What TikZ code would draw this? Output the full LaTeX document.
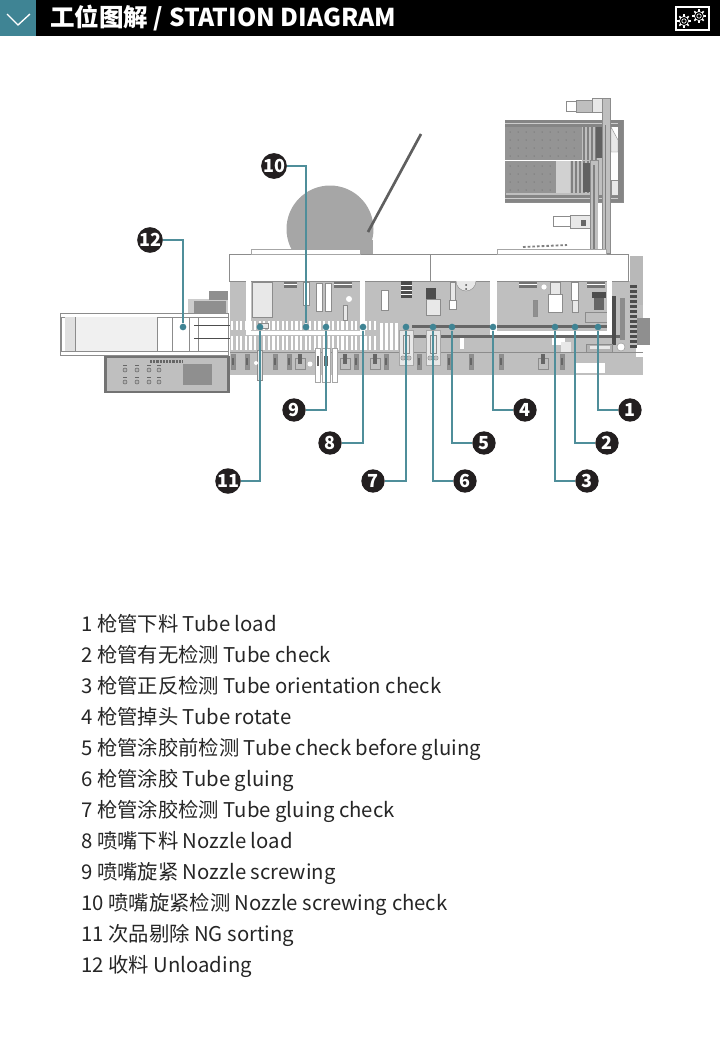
\documentclass[tikz,border=0pt]{standalone}
\usepackage{fontspec}
\setmainfont{Noto Sans CJK SC}
\definecolor{teal}{HTML}{3F8494}
\definecolor{leadc}{HTML}{4F8E9A}
\definecolor{ink}{HTML}{231F20}
\definecolor{plate}{HTML}{BFBFBF}
\definecolor{steel}{HTML}{8F8F8F}
\definecolor{rail}{HTML}{4D4D4D}
\definecolor{pale}{HTML}{E8E8E8}
\tikzset{
  badge/.style={circle,fill=ink,text=white,minimum size=17.5pt,inner sep=0pt,font=\fontsize{13.5}{14}\bfseries},
  tip/.style={circle,fill=teal,minimum size=5pt,inner sep=0pt},
  leader/.style={draw=leadc,line width=0.85pt},
  item/.style={anchor=base west,inner sep=0pt,text=black!85,font=\fontsize{15.25}{18}\selectfont},
  hood/.style={fill=white,draw=black!35,line width=0.3pt},
  finger/.style={fill=white},
  clamp/.style={fill=steel,draw=black!45,line width=0.3pt},
  thin/.style={draw=black!45,line width=0.3pt}
}
\newcommand{\clampat}[1]{\draw[clamp] (#1-2,354) rectangle (#1+2,369);\fill[black!60] (#1-1,358) rectangle (#1+1,365);}
\newcommand{\blockat}[1]{\draw[clamp,fill=plate] (#1-5,358) rectangle (#1+5,369);\fill[black!60] (#1-2,354) rectangle (#1+2,364);\draw[thin] (#1-10,352) -- (#1+10,352);}
\newcommand{\forkat}[1]{\draw[hood,fill=pale] (#1-7,330) rectangle (#1+7,365);\draw[thin] (#1-3,335) rectangle (#1+3,353);\draw[thin,fill=plate] (#1-3,358) circle (2.2);\draw[thin,fill=plate] (#1+3,358) circle (2.2);}
\newcommand{\gearat}[2]{\foreach \a in {0,45,...,315} {\draw[white,line width=1.1pt] (#1,#2) ++(\a:4.5) -- ++(\a:2.2);}\draw[white,line width=0.5pt] (#1,#2) circle (4.6);\draw[white,line width=0.5pt] (#1,#2) circle (2.2);}
\begin{document}
\begin{tikzpicture}[x=0.75pt,y=-0.75pt]
\useasboundingbox (0,0) rectangle (720,1064);
\fill[black] (0,0) rectangle (720,36);
\fill[teal] (0,0) rectangle (36,36);
\draw[white,line width=1pt] (7,14) -- (18,25) -- (30,14);
\node(title) at (50,18) [anchor=west,inner sep=0pt,text=white,font=\fontsize{18.4}{22}\bfseries] {工位图解 / STATION DIAGRAM};
\draw[white,line width=1pt] (676,7) rectangle (709,30);
\gearat{684}{21}
\gearat{699}{16}

\fill[black!35] (330,229) circle (43.5);
\fill[black!35] (360,240) rectangle (373,254);
\draw[rail!90,line width=2pt] (421,134) -- (368,232);

\draw[thin,fill=plate] (505,120) rectangle (623,202);
\fill[black!48] (505,120) rectangle (623,127);
\fill[black!48] (505,195) rectangle (623,202);
\fill[black!20] (505,123) rectangle (623,124);
\fill[black!20] (505,198) rectangle (623,199);
\fill[white] (505,160) rectangle (582,161);
\fill[black!42] (505,127) rectangle (582,160);
\fill[black!42] (505,161) rectangle (556,193);
\fill[black!18] (556,161) rectangle (570,193);
\foreach \x in {510,518,...,578} {\foreach \y in {132,140,...,156} {\fill[black!65] (\x,\y) circle (0.5);}}
\foreach \x in {510,518,...,550} {\foreach \y in {166,174,...,190} {\fill[black!65] (\x,\y) circle (0.5);}}
\foreach \x in {571,575,...,587} {\fill[black!50] (\x,161) rectangle (\x+2,193);}
\foreach \x in {583,587,...,595} {\fill[black!50] (\x,127) rectangle (\x+2,160);}
\fill[black!62] (596,127) rectangle (604,158);
\fill[black!62] (583,163) rectangle (591,192);
\fill[white] (611,127) rectangle (618,195);
\draw[thin,fill=pale] (611,127) -- (618,140) -- (618,152) -- (611,152) -- cycle;
\draw[thin,fill=pale] (611,180) -- (618,180) -- (618,195) -- (611,195) -- cycle;
\fill[black!48] (618,120) rectangle (623,202);
\draw[thin,fill=black!25] (590,160) rectangle (598,253);
\fill[black!50] (593,165) rectangle (595,253);
\draw[thin,fill=black!25] (602,98) rectangle (610,253);
\fill[black!50] (605,125) rectangle (606,253);
\fill[white] (598,203) rectangle (602,253);
\draw[thin,fill=pale] (592,98) rectangle (602,112);
\draw[thin,fill=plate] (576,100) rectangle (592,112);
\draw[thin,fill=white] (566,101) rectangle (576,111);
\draw[thin,fill=pale] (570,215) rectangle (590,228);
\draw[thin,fill=white] (553,216) rectangle (570,226);
\fill[black!60] (581,220) rectangle (586,226);
\draw[black!50,line width=1.4pt,dash pattern=on 2pt off 1.5pt] (523,247) -- (567,245);

\fill[plate] (230,281) rectangle (643,375);
\fill[black!28] (630,256) rectangle (643,305);
\fill[steel] (637,318) rectangle (650,345);
\fill[white] (636,345) rectangle (644,357);
\draw[thin,fill=white] (229,254) rectangle (628,281);
\draw[hood] (251,249) rectangle (360,254);
\draw[hood] (497,249) rectangle (606,254);
\draw[thin] (430,254) -- (430,281);
\draw[thin,fill=pale] (252,282) rectangle (272,317);
\fill[black!60] (412,325) rectangle (612,328);
\fill[black!60] (412,335) rectangle (625,338);
\fill[rail] (612,296) rectangle (616,345);
\fill[black!45] (620,298) rectangle (625,340);
\foreach \y in {285,290,...,345} {\fill[black!70] (630,\y) rectangle (637,\y+3);}
\foreach \x in {231,235.6,...,378} {\fill[finger] (\x,321) rectangle (\x+2.2,330);}
\foreach \x in {231,235.6,...,378} {\fill[finger] (\x,336) rectangle (\x+2.2,350);}
\foreach \x in {380,385,...,395} {\fill[finger] (\x,323) rectangle (\x+2.6,350);}
\fill[white] (460,338) rectangle (464,349);
\fill[white] (574,363) rectangle (605,373);
\fill[white] (552,338) rectangle (565,345);
\fill[pale] (561,342) rectangle (571,352);
\draw[thin,fill=black!30] (586,344) rectangle (612,352);
\fill[pale] (590,346) rectangle (610,349);
\draw[thin,fill=white] (621,347) circle (4);

\draw[thin] (230,352) -- (643,352);
\clampat{233}\clampat{247}\clampat{275}\clampat{289}\clampat{356}\clampat{386}\clampat{419}\clampat{449}\clampat{471}\clampat{501}\clampat{562}
\blockat{300}\blockat{345}\blockat{375}\blockat{543}
\forkat{406}\forkat{433}
\draw[thin,fill=pale] (257,350) rectangle (262,380);
\draw[hood] (315,348) rectangle (320,382);
\draw[hood] (322,348) rectangle (330,382);
\draw[hood] (332,348) rectangle (337,382);
\fill[black!60] (317,356) rectangle (319,366);
\fill[black!60] (324,356) rectangle (328,366);
\fill[white] (256,363) circle (2);
\fill[white] (310,364) circle (2.5);
\fill[white] (349,299) circle (3);
\fill[white] (453,288) circle (2.6);
\fill[white] (544,287) circle (2.6);

\fill[black!55] (284,282) rectangle (297,288);
\fill[white] (284,284) rectangle (297,285);
\fill[black!55] (334,282) rectangle (352,288);
\fill[white] (334,284) rectangle (352,285);
\fill[black!55] (519,282) rectangle (537,288);
\fill[white] (519,284) rectangle (537,285);
\fill[black!55] (587,282) rectangle (605,288);
\fill[white] (587,284) rectangle (605,285);
\draw[thin,fill=white] (303,282) rectangle (309,305);
\draw[thin,fill=white] (316,283) rectangle (322,311);
\draw[thin,fill=white] (325,283) rectangle (331,311);
\draw[thin,fill=pale] (343,305) rectangle (347,320);
\draw[thin,fill=white] (381,290) rectangle (388,310);
\fill[rail] (401,281) rectangle (412,298);
\fill[white] (401,285) rectangle (412,286);
\fill[white] (401,290) rectangle (412,291);
\fill[white] (401,294) rectangle (412,295);
\fill[rail] (426,288) rectangle (436,299);
\draw[thin,fill=pale] (426,299) rectangle (440,315);
\draw[thin,fill=pale] (450,282) rectangle (455,300);
\draw[thin,fill=white] (449,300) rectangle (456,309);
\draw[thin,fill=pale] (456,281) arc (180:0:10);
\fill[rail] (466,285) circle (1);
\fill[rail] (466,289) circle (1);
\draw[thin,fill=pale] (550,282) rectangle (560,294);
\draw[thin,fill=white] (548,294) rectangle (562,312);
\draw[thin,fill=white] (571,282) rectangle (578,300);
\draw[thin,fill=pale] (572,300) rectangle (578,312);
\fill[rail] (592,292) rectangle (606,298);
\fill[black!60] (594,298) rectangle (604,310);
\draw[thin] (585,312) rectangle (609,322);
\draw[clamp] (533,300) rectangle (537,316);
\draw[thin,fill=pale] (258,323) rectangle (268,328);

\fill[white] (246,281) rectangle (251,335);
\fill[white] (246,331) rectangle (365,335);
\fill[white] (360,281) rectangle (365,335);
\fill[white] (490,281) rectangle (497,335);
\fill[white] (490,331) rectangle (612,335);
\fill[white] (607,281) rectangle (612,335);

\draw[thin,fill=white] (60,313) rectangle (228,355);
\draw[thin,fill=white] (61,317) rectangle (228,351);
\fill[black!6] (75,317) rectangle (157,351);
\fill[black!12] (65,317) rectangle (75,351);
\draw[thin] (75,317) -- (75,351);
\draw[thin] (157,317) -- (157,351);
\draw[thin] (172,317) -- (172,351);
\draw[thin] (189,317) -- (189,351);
\draw[thin] (198,317) -- (198,351);
\fill[rail] (194,324.5) rectangle (230,326);
\fill[rail] (194,337.5) rectangle (230,339);
\fill[black!20] (188,299) rectangle (228,313);
\fill[steel] (194,301) rectangle (226,313);
\fill[steel] (209,291) rectangle (228,300);

\fill[black!55] (104,356) rectangle (230,393);
\fill[plate] (107,358) rectangle (227,391);
\fill[steel] (183,364) rectangle (212,385);
\draw[black!60,line width=1.6pt,dash pattern=on 1.6pt off 0.8pt] (150,361.5) -- (183,361.5);
\foreach \x in {125,137,149,159} {\foreach \y in {370,382} {\draw[black!60,fill=black!30] (\x,\y) circle (2); \fill[black!60] (\x-2,\y-5) rectangle (\x+2,\y-4);}}

\node(t1)[tip] at (598,327) {};
\node(t2)[tip] at (575,327) {};
\node(t3)[tip] at (555,327) {};
\node(t4)[tip] at (493,327) {};
\node(t5)[tip] at (452,327) {};
\node(t6)[tip] at (433,327) {};
\node(t7)[tip] at (406,327) {};
\node(t8)[tip] at (363,327) {};
\node(t9)[tip] at (326,327) {};
\node(t10)[tip] at (306,327) {};
\node(t11)[tip] at (260,327) {};
\node(t12)[tip] at (183,327) {};

\node(n1)[badge] at (630,410) {1};
\node(n2)[badge] at (607,443) {2};
\node(n3)[badge] at (587,481) {3};
\node(n4)[badge] at (525,410) {4};
\node(n5)[badge] at (484,443) {5};
\node(n6)[badge] at (465,481) {6};
\node(n7)[badge] at (373,481) {7};
\node(n8)[badge] at (330,443) {8};
\node(n9)[badge] at (294,410) {9};
\node(n10)[badge] at (274,166) {10};
\node(n11)[badge] at (228,481) {11};
\node(n12)[badge] at (150,240) {12};

\draw[leader] (n1) -| (t1);
\draw[leader] (n2) -| (t2);
\draw[leader] (n3) -| (t3);
\draw[leader] (n4) -| (t4);
\draw[leader] (n5) -| (t5);
\draw[leader] (n6) -| (t6);
\draw[leader] (n7) -| (t7);
\draw[leader] (n8) -| (t8);
\draw[leader] (n9) -| (t9);
\draw[leader] (n10) -| (t10);
\draw[leader] (n11) -| (t11);
\draw[leader] (n12) -| (t12);

\node(s1)[item] at (81,631) {1 枪管下料 Tube load};
\node(s2)[item] at (81,662) {2 枪管有无检测 Tube check};
\node(s3)[item] at (81,693) {3 枪管正反检测 Tube orientation check};
\node(s4)[item] at (81,724) {4 枪管掉头 Tube rotate};
\node(s5)[item] at (81,755) {5 枪管涂胶前检测 Tube check before gluing};
\node(s6)[item] at (81,786) {6 枪管涂胶 Tube gluing};
\node(s7)[item] at (81,817) {7 枪管涂胶检测 Tube gluing check};
\node(s8)[item] at (81,848) {8 喷嘴下料 Nozzle load};
\node(s9)[item] at (81,879) {9 喷嘴旋紧 Nozzle screwing};
\node(s10)[item] at (81,910) {10 喷嘴旋紧检测 Nozzle screwing check};
\node(s11)[item] at (81,941) {11 次品剔除 NG sorting};
\node(s12)[item] at (81,972) {12 收料 Unloading};
\end{tikzpicture}
\end{document}
